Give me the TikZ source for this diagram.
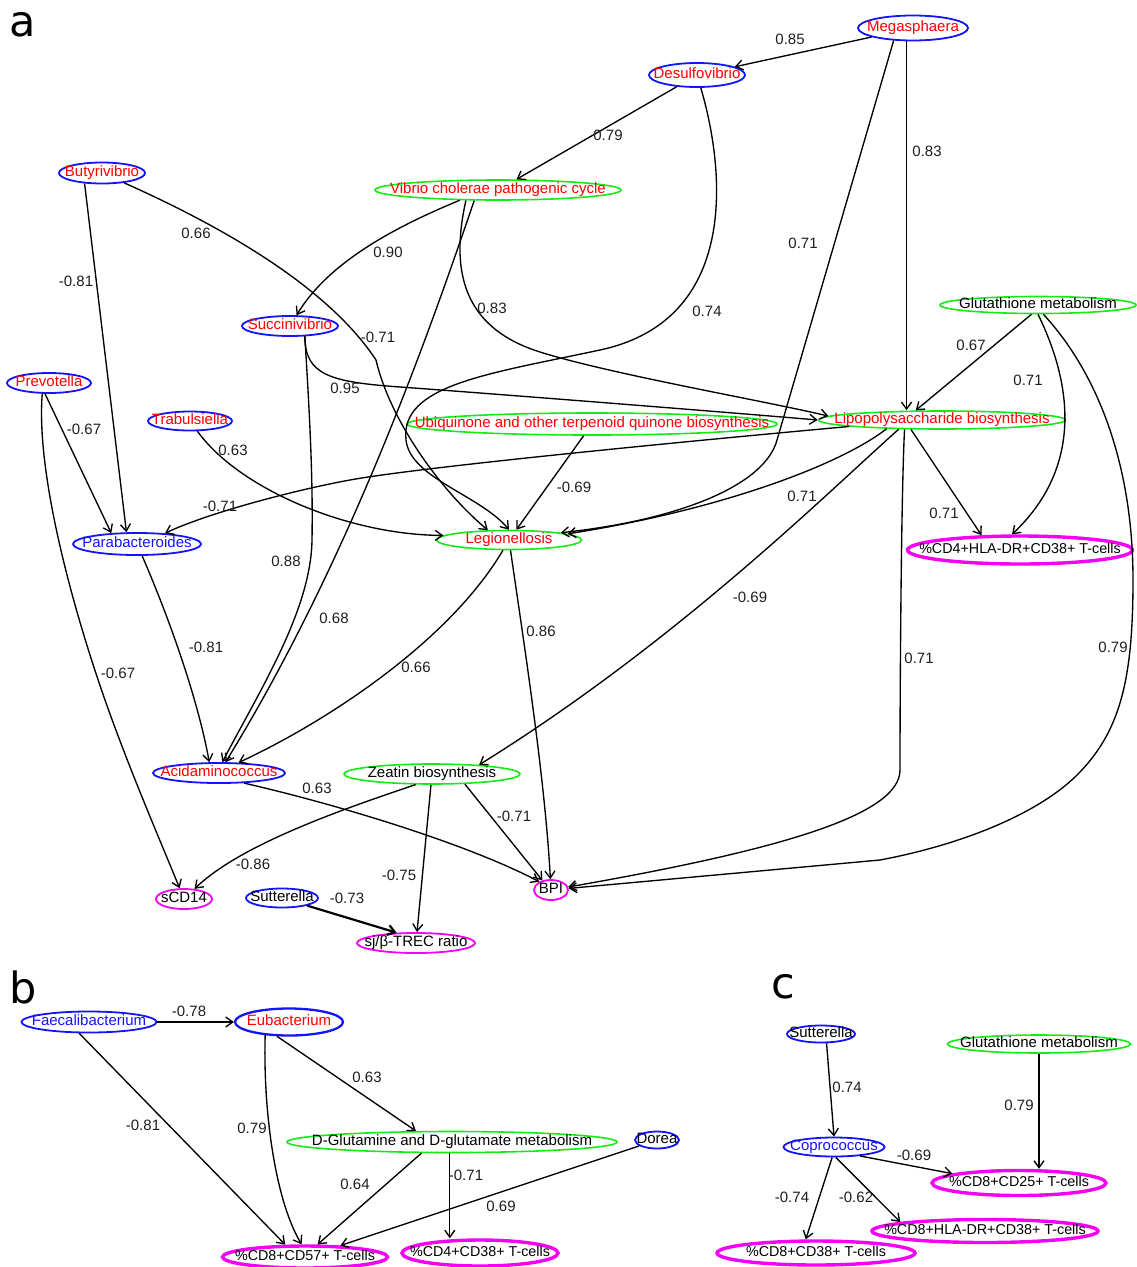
\documentclass[tikz,border=0pt]{standalone}
\usepackage{fontspec}
\setmainfont{Liberation Sans}
\newfontfamily\panelfont{DejaVu Sans}
\usetikzlibrary{shapes.geometric,arrows.meta}
\definecolor{nblue}{RGB}{20,20,250}
\definecolor{nred}{RGB}{255,0,0}
\definecolor{ngreen}{RGB}{20,235,20}
\definecolor{nmag}{RGB}{245,0,245}
\definecolor{wgray}{RGB}{30,30,30}

\begin{document}
\begin{tikzpicture}[x=1pt,y=-1pt,
    ell/.style={ellipse,inner xsep=0pt,inner ysep=-1.5pt,text height=10.5pt,text depth=3pt,
        font=\fontsize{15}{15}\selectfont,
        execute at begin node={\hbox to 0pt\bgroup\hss},
        execute at end node={\hss\egroup}},
    sz/.style 2 args={minimum width=#1pt,minimum height=#2pt},
    taxon/.style={ell,draw=nblue,line width=1.8pt,text=nred},
    taxonb/.style={ell,draw=nblue,line width=1.8pt,text=nblue},
    taxonk/.style={ell,draw=nblue,line width=1.8pt,text=black},
    kegg/.style={ell,draw=ngreen,line width=1.6pt,text=nred},
    keggk/.style={ell,draw=ngreen,line width=1.6pt,text=black},
    immune/.style={ell,draw=nmag,line width=1.8pt,text=black},
    immunet/.style={immune,line width=3.4pt,font=\fontsize{14.3}{15}\selectfont},
    corr/.style={line width=1.35pt,-{Straight Barb[length=7pt,width=10pt]}},
    wt/.style={inner sep=0pt,text=wgray,font=\fontsize{15}{15}\selectfont},
    panel/.style={inner sep=0pt,anchor=base west,font=\panelfont\fontsize{43}{43}\selectfont}]
    \useasboundingbox (0,0) rectangle (1136,1267);

    \node[panel] (pa) at (9,36) {a};
    \node[panel] (pb) at (9,1003) {b};
    \node[panel] (pc) at (771,998) {c};

    \node[taxon,sz={110}{25}] (mega) at (913,28) {Megasphaera};
    \node[taxon,sz={96}{24}] (desu) at (697,75) {Desulfovibrio};
    \node[taxon,sz={86}{21}] (buty) at (102,173) {Butyrivibrio};
    \node[kegg,sz={246}{20}] (vibr) at (498,190) {Vibrio cholerae pathogenic cycle};
    \node[taxon,sz={96}{20}] (succ) at (290,326) {Succinivibrio};
    \node[keggk,sz={196}{17}] (glut) at (1038,305) {Glutathione metabolism};
    \node[taxon,sz={84}{20}] (prev) at (49,383) {Prevotella};
    \node[taxon,sz={84}{19}] (trab) at (190,421) {Trabulsiella};
    \node[kegg,sz={370}{22}] (ubiq) at (592,424) {Ubiquinone and other terpenoid quinone biosynthesis};
    \node[kegg,sz={247}{18}] (lipo) at (942,420) {Lipopolysaccharide biosynthesis};
    \node[taxonb,sz={128}{22}] (para) at (137,544) {Parabacteroides};
    \node[kegg,sz={145}{19}] (legi) at (509,540) {Legionellosis};
    \node[immunet,sz={225}{28}] (cd4h) at (1020,550) {\%CD4+HLA-DR+CD38+ T-cells};
    \node[taxon,sz={132}{20}] (acid) at (219,773) {Acidaminococcus};
    \node[keggk,sz={176}{20}] (zeat) at (432,774) {Zeatin biosynthesis};
    \node[immune,sz={56}{20}] (scd) at (184,899) {sCD14};
    \node[taxonk,sz={72}{19}] (sutA) at (282,898) {Sutterella};
    \node[immune,sz={34}{20}] (bpi) at (551,890) {BPI};
    \node[immune,sz={118}{20}] (trec) at (416,943) {sj/β-TREC ratio};

    \draw[corr] (mega) -- (desu);
    \draw[corr] (mega.213) -- (777,440) .. controls (765,485) and (680,520) .. (legi.8);
    \draw[corr] (mega.244) -- (mega.244 |- lipo.north);
    \draw[corr] (desu) -- (vibr);
    \draw[corr] (desu) .. controls (725,170) and (740,320) .. (600,350) .. controls (488,374) and (400,385) .. (406,440) .. controls (410,478) and (480,495) .. (legi.north);
    \draw[corr] (buty.211) -- (para.132);
    \draw[corr] (buty) .. controls (230,230) and (330,290) .. (376,360) .. controls (390,420) and (440,490) .. (legi.155);
    \draw[corr] (vibr.195) .. controls (400,225) and (330,260) .. (succ);
    \draw[corr] (vibr.204) .. controls (430,330) and (350,560) .. (acid.59);
    \draw[corr] (vibr.198) .. controls (448,280) and (470,330) .. (540,352) .. controls (610,374) and (760,400) .. (lipo.178);
    \draw[corr] (succ.-35) .. controls (305,375) and (330,382) .. (400,387) .. controls (470,392) and (700,410) .. (lipo.west);
    \draw[corr] (succ.-35) .. controls (310,420) and (313,480) .. (312,540) .. controls (311,610) and (260,690) .. (acid.73);
    \draw[corr] (prev.250) -- (para.157);
    \draw[corr] (prev.238) .. controls (36,470) and (70,600) .. (105,700) .. controls (130,771) and (160,840) .. (scd);
    \draw[corr] (trab) .. controls (240,490) and (350,535) .. (legi.176);
    \draw[corr] (lipo.184) .. controls (700,440) and (420,467) .. (350,480) .. controls (300,489) and (210,512) .. (para.21);
    \draw[corr] (ubiq) -- (legi);
    \draw[corr] (glut.235) -- (lipo.160);
    \draw[corr] (glut.south) .. controls (1075,390) and (1080,470) .. (cd4h.117);
    \draw[corr] (glut.-60) .. controls (1095,370) and (1133,460) .. (1133,580) .. controls (1133,680) and (1120,730) .. (1080,772) .. controls (1040,814) and (960,845) .. (880,860) -- (bpi);
    \draw[corr] (lipo.194) .. controls (901,500) and (900,700) .. (900,770) .. controls (900,815) and (780,850) .. (bpi);
    \draw[corr] (lipo.197) -- (cd4h.159);
    \draw[corr] (lipo.189) .. controls (840,465) and (720,510) .. (legi.6);
    \draw[corr] (lipo.192) .. controls (830,490) and (680,640) .. (zeat.11);
    \draw[corr] (legi) .. controls (450,640) and (330,720) .. (acid.28);
    \draw[corr] (legi) .. controls (525,650) and (545,780) .. (bpi);
    \draw[corr] (para) .. controls (170,620) and (198,700) .. (acid.132);
    \draw[corr] (acid.-22) .. controls (340,805) and (470,845) .. (bpi.145);
    \draw[corr] (zeat.213) .. controls (340,810) and (240,845) .. (scd);
    \draw[corr] (zeat) -- (trec);
    \draw[corr] (zeat.-17) -- (bpi.132);
    \draw[corr,line width=2.2pt] (sutA) -- (trec.152);

    \node[wt] (c-mega-desu) at (790,39) {0.85};
    \node[wt] (c-desu-vibr) at (608,135) {0.79};
    \node[wt] (c-mega-legi) at (803,243) {0.71};
    \node[wt] (c-mega-lipo) at (927,151) {0.83};
    \node[wt] (c-desu-legi) at (707,311) {0.74};
    \node[wt] (c-glut-lipo) at (971,345) {0.67};
    \node[wt] (c-glut-cd4h) at (1028,380) {0.71};
    \node[wt] (c-buty-legi) at (196,233) {0.66};
    \node[wt] (c-buty-para) at (76,281) {-0.81};
    \node[wt] (c-vibr-succ) at (388,252) {0.90};
    \node[wt] (c-vibr-lipo) at (492,308) {0.83};
    \node[wt] (c-buty-legi-b) at (378,337) {-0.71};
    \node[wt] (c-succ-lipo) at (345,388) {0.95};
    \node[wt] (c-prev-para) at (84,429) {-0.67};
    \node[wt] (c-trab-legi) at (233,450) {0.63};
    \node[wt] (c-ubiq-legi) at (574,487) {-0.69};
    \node[wt] (c-lipo-para) at (220,506) {-0.71};
    \node[wt] (c-lipo-legi) at (802,496) {0.71};
    \node[wt] (c-lipo-cd4h) at (944,513) {0.71};
    \node[wt] (c-succ-acid) at (286,561) {0.88};
    \node[wt] (c-vibr-acid) at (334,618) {0.68};
    \node[wt] (c-para-acid) at (206,647) {-0.81};
    \node[wt] (c-legi-bpi) at (541,631) {0.86};
    \node[wt] (c-lipo-zeat) at (750,597) {-0.69};
    \node[wt] (c-prev-scd) at (118,673) {-0.67};
    \node[wt] (c-legi-acid) at (416,667) {0.66};
    \node[wt] (c-lipo-bpi) at (919,658) {0.71};
    \node[wt] (c-glut-bpi) at (1113,647) {0.79};
    \node[wt] (c-acid-bpi) at (317,788) {0.63};
    \node[wt] (c-zeat-bpi) at (514,816) {-0.71};
    \node[wt] (c-zeat-scd) at (253,864) {-0.86};
    \node[wt] (c-zeat-trec) at (399,875) {-0.75};
    \node[wt] (c-suta-trec) at (347,898) {-0.73};

    \node[taxonb,sz={135}{21}] (faec) at (89,1022) {Faecalibacterium};
    \node[taxon,sz={108}{27},line width=2.3pt] (eub) at (289,1022) {Eubacterium};
    \node[keggk,sz={330}{21}] (dglu) at (452,1142) {D-Glutamine and D-glutamate metabolism};
    \node[taxonk,sz={44}{17}] (dorea) at (657,1140) {Dorea};
    \node[immunet,sz={165}{22}] (cd857) at (305,1257) {\%CD8+CD57+ T-cells};
    \node[immunet,sz={156}{26}] (cd438) at (480,1253) {\%CD4+CD38+ T-cells};

    \draw[corr] (faec) -- (eub);
    \draw[corr] (faec.229) -- (cd857.148);
    \draw[corr] (eub.209) .. controls (263,1110) and (275,1200) .. (cd857.105);
    \draw[corr] (eub.230) -- (dglu.163);
    \draw[corr] (dglu.200) -- (cd857.45);
    \draw[corr] (dglu.259) -- (dglu.259 |- cd438.north);
    \draw[corr] (dorea) -- (cd857.18);

    \node[wt] (c-faec-eub) at (189,1011) {-0.78};
    \node[wt] (c-faec-cd857) at (143,1125) {-0.81};
    \node[wt] (c-eub-cd857) at (252,1128) {0.79};
    \node[wt] (c-eub-dglu) at (367,1077) {0.63};
    \node[wt] (c-dglu-cd857) at (355,1184) {0.64};
    \node[wt] (c-dglu-cd438) at (466,1175) {-0.71};
    \node[wt] (c-dorea-cd857) at (501,1206) {0.69};

    \node[taxonk,sz={68}{17}] (sutC) at (821,1034) {Sutterella};
    \node[keggk,sz={183}{18}] (glutC) at (1039,1044) {Glutathione metabolism};
    \node[taxonb,sz={101}{19}] (copro) at (834,1147) {Coprococcus};
    \node[immunet,sz={174}{25}] (cd825) at (1019,1183) {\%CD8+CD25+ T-cells};
    \node[immunet,sz={226}{23}] (cd8h) at (985,1231) {\%CD8+HLA-DR+CD38+ T-cells};
    \node[immunet,sz={198}{24}] (cd838) at (816,1253) {\%CD8+CD38+ T-cells};

    \draw[corr] (sutC.-59) -- (copro.north);
    \draw[corr] (glutC) -- (glutC |- cd825.north);
    \draw[corr] (copro.-19) -- (cd825.172);
    \draw[corr] (copro.-80) -- (cd8h.174);
    \draw[corr] (copro.-100) -- (cd838.127);

    \node[wt] (c-sutc-copro) at (847,1087) {0.74};
    \node[wt] (c-glutc-cd825) at (1019,1105) {0.79};
    \node[wt] (c-copro-cd825) at (914,1155) {-0.69};
    \node[wt] (c-copro-cd8h) at (856,1197) {-0.62};
    \node[wt] (c-copro-cd838) at (792,1197) {-0.74};
\end{tikzpicture}
\end{document}
